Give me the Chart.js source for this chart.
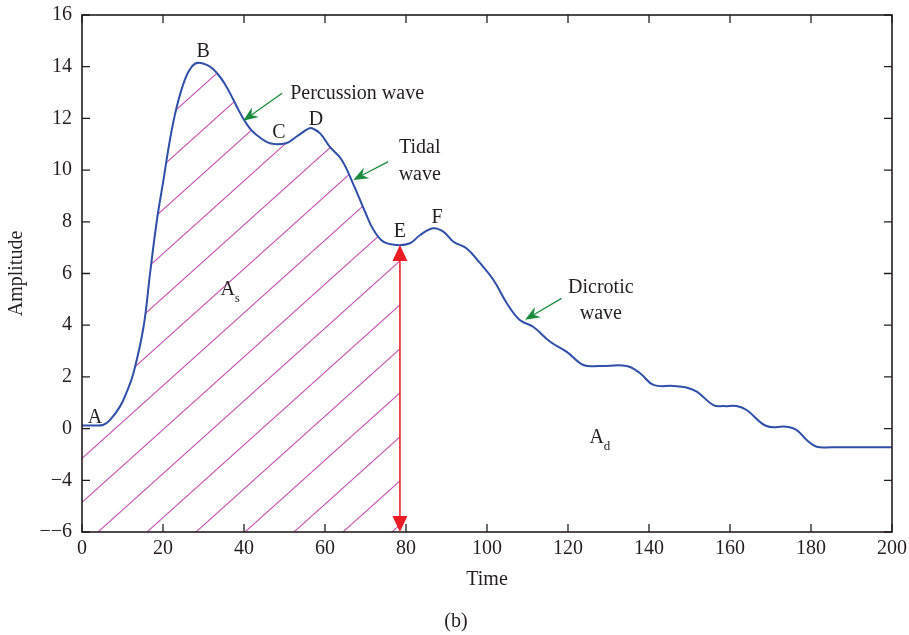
<!DOCTYPE html>
<html>
<head>
<meta charset="utf-8">
<script src="https://cdn.jsdelivr.net/npm/chart.js@4"></script>
<style>
  html, body { margin: 0; padding: 0; background: #fff; }
  #wrap { width: 909px; height: 635px; position: relative; }
</style>
</head>
<body>
<div id="wrap"><canvas id="c" width="909" height="635"></canvas></div>
<script>
// ---- Data ----
const timeValues = [0, 3, 5.3, 7, 9.4, 11, 12.7, 15.2, 16.8, 18.5, 20.1, 21.7, 23.4, 25.4, 27.1, 28.7, 31.6, 33.7, 35.2, 36.8, 38.4, 39.8, 41.5, 43.1, 46.4, 50.4, 53, 55.9, 56.8, 58.8, 61.2, 64.1, 67, 70, 72, 74.4, 77.7, 81, 83.5, 86.7, 89.2, 91.7, 95, 98.3, 101.6, 104.9, 108.1, 111.4, 115.6, 119.7, 123.8, 127.9, 134.5, 137.8, 141.1, 146, 149, 151.8, 155.9, 158.5, 161.6, 164.1, 169, 173.9, 176.4, 179, 181.4, 185, 200];
const amplitudeValues = [0.12, 0.12, 0.15, 0.35, 0.86, 1.4, 2.14, 3.94, 6.0, 8.07, 9.6, 11.16, 12.45, 13.5, 14.0, 14.15, 14.0, 13.68, 13.35, 12.9, 12.4, 12.0, 11.6, 11.36, 11.04, 11.04, 11.3, 11.6, 11.62, 11.42, 10.9, 10.4, 9.45, 8.35, 7.68, 7.23, 7.10, 7.17, 7.49, 7.75, 7.62, 7.23, 6.97, 6.4, 5.75, 4.85, 4.2, 3.94, 3.36, 2.97, 2.46, 2.42, 2.42, 2.14, 1.69, 1.65, 1.6, 1.43, 0.91, 0.87, 0.87, 0.72, 0.1, 0.07, -0.05, -0.45, -0.7, -0.72, -0.72];
const systoleEnd = { x: 78.5, y: 7.1 };          // point E, end of hatched area
const xTicks = [0, 20, 40, 60, 80, 100, 120, 140, 160, 180, 200];
const yTicks = [-4, -2, 0, 2, 4, 6, 8, 10, 12, 14, 16];
const yTickLabels = ['\u2212\u22126', '\u22124', '0', '2', '4', '6', '8', '10', '12', '14', '16'];
const pointLabels = [
  { text: 'A', x: 3.2, y: 0.41 },
  { text: 'B', x: 29.9, y: 14.57 },
  { text: 'C', x: 48.6, y: 11.43 },
  { text: 'D', x: 57.8, y: 11.93 },
  { text: 'E', x: 78.5, y: 7.6 },
  { text: 'F', x: 87.7, y: 8.14 }
];
const noteLabels = [
  { text: 'Percussion wave', x: 51.4, y: 12.94, align: 'left' },
  { text: 'Tidal', x: 83.4, y: 10.85, align: 'center' },
  { text: 'wave', x: 83.4, y: 9.82, align: 'center' },
  { text: 'Dicrotic', x: 128.1, y: 5.43, align: 'center' },
  { text: 'wave', x: 128.1, y: 4.45, align: 'center' }
];
const areaLabels = [
  { main: 'A', sub: 's', x: 36.0, y: 5.37 },
  { main: 'A', sub: 'd', x: 127.1, y: -0.36 }
];
// green arrows: tail -> tip (data coordinates)
const waveArrows = [
  { x0: 49.4, y0: 12.97, x1: 39.8, y1: 11.91 },
  { x0: 75.6, y0: 10.33, x1: 67.0, y1: 9.62 },
  { x0: 118.4, y0: 5.04, x1: 109.4, y1: 4.21 }
];
// red double arrow (data coordinates)
const heightArrow = { x: 78.5, yTop: 7.1, yBottom: -4 };

// ---- Build datasets ----
const curvePoints = timeValues.map((t, i) => ({ x: t, y: amplitudeValues[i] }));
const hatchPoints = curvePoints.filter(p => p.x < systoleEnd.x).concat([systoleEnd]);

function makeHatch() {
  const W = 49, H = 44;
  const c = document.createElement('canvas');
  c.width = W; c.height = H;
  const g = c.getContext('2d');
  g.strokeStyle = '#c452b0';
  g.lineWidth = 1.1;
  for (const dx of [-W, 0, W]) {
    g.beginPath();
    g.moveTo(-W + dx, 2 * H);
    g.lineTo(2 * W + dx, -H);
    g.stroke();
  }
  const ctx = document.getElementById('c').getContext('2d');
  const pat = ctx.createPattern(c, 'repeat');
  pat.setTransform(new DOMMatrix([1, 0, 0, 1, 0, 4]));
  return pat;
}

const INK = '#231f20';
const FONT = '"Liberation Serif", "Times New Roman", serif';

const decorPlugin = {
  id: 'decor',
  afterDraw(chart) {
    const { ctx, chartArea: a, scales } = chart;
    const xs = scales.x, ys = scales.y;
    ctx.save();
    // frame
    ctx.strokeStyle = INK;
    ctx.lineWidth = 1.6;
    ctx.strokeRect(a.left, a.top, a.right - a.left, a.bottom - a.top);
    // inward ticks on all sides
    ctx.lineWidth = 1.3;
    const TL = 8;
    ctx.beginPath();
    xTicks.forEach(v => {
      const px = xs.getPixelForValue(v);
      ctx.moveTo(px, a.bottom); ctx.lineTo(px, a.bottom - TL);
      ctx.moveTo(px, a.top); ctx.lineTo(px, a.top + TL);
    });
    yTicks.forEach(v => {
      const py = ys.getPixelForValue(v);
      ctx.moveTo(a.left, py); ctx.lineTo(a.left + TL, py);
      ctx.moveTo(a.right, py); ctx.lineTo(a.right - TL, py);
    });
    ctx.stroke();

    // red double arrow
    const rx = xs.getPixelForValue(heightArrow.x);
    const rt = ys.getPixelForValue(heightArrow.yTop);
    const rb = ys.getPixelForValue(heightArrow.yBottom);
    ctx.strokeStyle = '#ec1c24';
    ctx.fillStyle = '#ec1c24';
    ctx.lineWidth = 1.5;
    ctx.beginPath(); ctx.moveTo(rx, rt + 10); ctx.lineTo(rx, rb - 10); ctx.stroke();
    ctx.beginPath(); ctx.moveTo(rx, rt); ctx.lineTo(rx - 7.5, rt + 16); ctx.lineTo(rx + 7.5, rt + 16); ctx.closePath(); ctx.fill();
    ctx.beginPath(); ctx.moveTo(rx, rb); ctx.lineTo(rx - 7.5, rb - 16); ctx.lineTo(rx + 7.5, rb - 16); ctx.closePath(); ctx.fill();

    // green arrows
    ctx.strokeStyle = '#1b8b3e';
    ctx.fillStyle = '#1b8b3e';
    waveArrows.forEach(w => {
      const x0 = xs.getPixelForValue(w.x0), y0 = ys.getPixelForValue(w.y0);
      const x1 = xs.getPixelForValue(w.x1), y1 = ys.getPixelForValue(w.y1);
      const ang = Math.atan2(y1 - y0, x1 - x0);
      const L = 15, Wd = 6, N = 10;
      const ux = Math.cos(ang), uy = Math.sin(ang);
      ctx.lineWidth = 1.3;
      ctx.beginPath(); ctx.moveTo(x0, y0); ctx.lineTo(x1 - ux * N, y1 - uy * N); ctx.stroke();
      ctx.beginPath();
      ctx.moveTo(x1, y1);
      ctx.lineTo(x1 - ux * L - uy * Wd, y1 - uy * L + ux * Wd);
      ctx.lineTo(x1 - ux * N, y1 - uy * N);
      ctx.lineTo(x1 - ux * L + uy * Wd, y1 - uy * L - ux * Wd);
      ctx.closePath();
      ctx.fill();
    });

    // text labels
    ctx.fillStyle = INK;
    ctx.textBaseline = 'middle';
    ctx.font = '20px ' + FONT;
    pointLabels.forEach(l => {
      ctx.textAlign = 'center';
      ctx.fillText(l.text, xs.getPixelForValue(l.x), ys.getPixelForValue(l.y));
    });
    noteLabels.forEach(l => {
      ctx.textAlign = l.align;
      ctx.fillText(l.text, xs.getPixelForValue(l.x), ys.getPixelForValue(l.y));
    });
    areaLabels.forEach(l => {
      const px = xs.getPixelForValue(l.x), py = ys.getPixelForValue(l.y);
      ctx.font = '20px ' + FONT;
      ctx.textAlign = 'center';
      ctx.fillText(l.main, px, py);
      ctx.font = '13px ' + FONT;
      ctx.textAlign = 'left';
      ctx.fillText(l.sub, px + 7, py + 9);
    });
    // panel caption
    ctx.font = '20px ' + FONT;
    ctx.textAlign = 'center';
    ctx.fillText('(b)', 456, 622);
    ctx.restore();
  }
};

new Chart(document.getElementById('c'), {
  type: 'line',
  data: {
    datasets: [
      {
        label: 'Pulse wave',
        data: curvePoints,
        borderColor: '#2f4fa8',
        borderWidth: 2,
        pointRadius: 0,
        tension: 0.4,
        fill: false
      },
      {
        label: 'Systolic area',
        data: hatchPoints,
        borderWidth: 0,
        borderColor: 'rgba(0,0,0,0)',
        backgroundColor: makeHatch(),
        pointRadius: 0,
        tension: 0.4,
        fill: 'start'
      }
    ]
  },
  options: {
    responsive: false,
    animation: false,
    devicePixelRatio: 1,
    layout: { padding: { left: 0, right: 17, top: 15, bottom: 0 } },
    plugins: { legend: { display: false }, tooltip: { enabled: false } },
    scales: {
      x: {
        type: 'linear',
        min: 0, max: 200,
        afterFit: s => { s.height = 103; s.paddingLeft = 0; s.paddingRight = 0; },
        afterBuildTicks: s => { s.ticks = xTicks.map(v => ({ value: v })); },
        grid: { display: false, drawTicks: false },
        border: { display: false },
        ticks: { color: INK, padding: 5, font: { family: FONT, size: 20 }, maxRotation: 0, autoSkip: false },
        title: { display: true, text: 'Time', color: INK, font: { family: FONT, size: 20 }, padding: { top: 0, bottom: 43 } }
      },
      y: {
        type: 'linear',
        min: -4, max: 16,
        afterFit: s => { s.width = 82; s.paddingTop = 0; s.paddingBottom = 0; },
        afterBuildTicks: s => { s.ticks = yTicks.map(v => ({ value: v })); },
        grid: { display: false, drawTicks: false },
        border: { display: false },
        ticks: {
          color: INK, padding: 10, font: { family: FONT, size: 20 }, autoSkip: false,
          callback: v => yTickLabels[yTicks.indexOf(v)]
        },
        title: { display: true, text: 'Amplitude', color: INK, font: { family: FONT, size: 20 }, padding: { top: 5, bottom: 0 } }
      }
    }
  },
  plugins: [decorPlugin]
});
</script>
</body>
</html>
